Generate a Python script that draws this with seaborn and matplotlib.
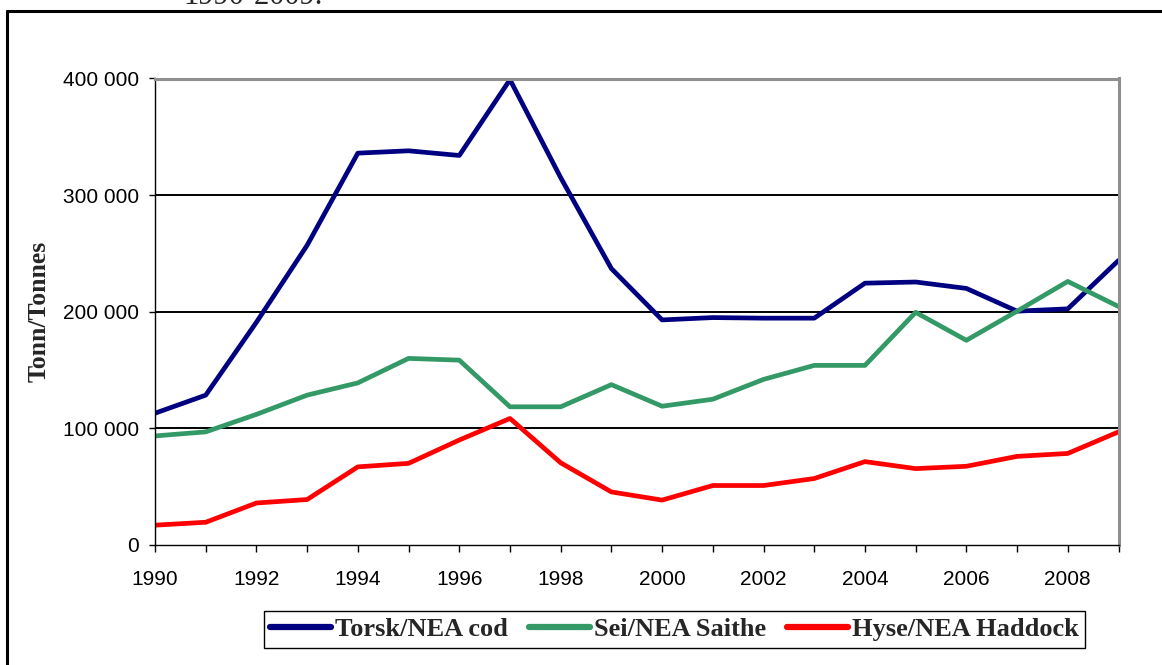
import numpy as np
import pandas as pd
import matplotlib
matplotlib.use('Agg')
import matplotlib.pyplot as plt
import matplotlib.ticker as mticker
from matplotlib.lines import Line2D
import seaborn as sns

years = list(range(1990, 2010))
cod = [113000, 128500, 191000, 257000, 336000, 338000, 334000, 399000, 315000, 237000,
       193000, 195000, 194500, 194500, 224500, 225500, 220000, 200500, 202500, 244000]
saithe = [93500, 97000, 112000, 128500, 139000, 160000, 158500, 118500, 118500, 137500,
          119000, 125000, 142000, 154000, 154000, 199500, 175500, 200500, 226000, 204500]
haddock = [17000, 19500, 36000, 39000, 67000, 70000, 90000, 108500, 70500, 45500,
           38500, 51000, 51000, 57000, 71500, 65500, 67500, 76000, 78500, 97000]

names = ['Torsk/NEA cod', 'Sei/NEA Saithe', 'Hyse/NEA Haddock']
colors = ['#000080', '#339966', '#FF0000']

df = pd.DataFrame({
    'year': years * 3,
    'tonnes': cod + saithe + haddock,
    'series': [names[0]] * 20 + [names[1]] * 20 + [names[2]] * 20,
})

sns.set_style('white')
plt.rcParams['font.family'] = ['Liberation Sans', 'DejaVu Sans']

fig = plt.figure(figsize=(11.62, 6.65), dpi=100)
ax = fig.add_axes([155/1162, 120/665, 963.5/1162, 466.5/665])

sns.lineplot(data=df, x='year', y='tonnes', hue='series', palette=colors,
             linewidth=3.4, ax=ax, legend=True)

ax.set_xlim(1990, 2009)
ax.set_ylim(0, 400000)
ax.set_xlabel('')

# gridlines
for v in [100000, 200000, 300000]:
    ax.axhline(v, color='black', lw=1.4, zorder=1)

ax.yaxis.set_major_locator(mticker.MultipleLocator(100000))
ax.yaxis.set_major_formatter(mticker.FuncFormatter(lambda v, p: f'{int(v):,}'.replace(',', ' ')))
ax.set_xticks(years)
ax.set_xticklabels([str(y) if y % 2 == 0 else '' for y in years])
ax.tick_params(axis='x', direction='out', length=5, width=1, pad=13, labelsize=15, colors='black')
ax.tick_params(axis='y', direction='out', length=4.5, width=1, pad=7, labelsize=15, colors='black')
ax.tick_params(left=True, bottom=True)

for s in ['left', 'bottom']:
    ax.spines[s].set_color('black')
    ax.spines[s].set_linewidth(1.0)
for s in ['top', 'right']:
    ax.spines[s].set_color('#909090')
    ax.spines[s].set_linewidth(2.2)

ax.set_ylabel('Tonn/Tonnes', family=['Liberation Serif', 'DejaVu Serif'],
              fontweight='bold', fontsize=18.5, va='center')
ax.yaxis.set_label_coords(-0.1205, 0.5)

handles, labels = ax.get_legend_handles_labels()
leg = ax.legend(handles, labels, loc='center', ncol=3,
                bbox_to_anchor=(674.5/1162, 35.5/665), bbox_transform=fig.transFigure,
                prop={'family': ['Liberation Serif', 'DejaVu Serif'], 'weight': 'bold', 'size': 19},
                frameon=True, fancybox=False, edgecolor='black', framealpha=1,
                handlelength=2.3, handletextpad=0.15, columnspacing=0.8,
                borderpad=0.25, borderaxespad=0)
leg.get_frame().set_linewidth(1.0)
for h in leg.get_lines():
    h.set_linewidth(4.5)

# outer page border and cut-off caption above it
fig.add_artist(Line2D([7/1162, 7/1162], [0, 654/665], color='black', lw=2.2,
                      transform=fig.transFigure))
fig.add_artist(Line2D([7/1162, 1], [654/665, 654/665], color='black', lw=2.2,
                      transform=fig.transFigure))
fig.text(183/1162, 661/665, '1990-2009.', family=['Liberation Serif', 'DejaVu Serif'],
         fontsize=22, ha='left', va='baseline')

fig.savefig('out.png', dpi=100)
